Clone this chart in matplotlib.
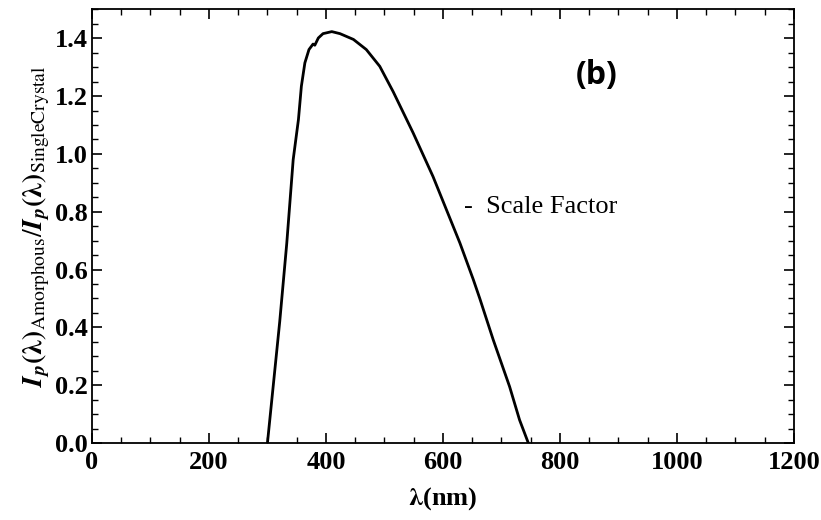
import numpy as np
import matplotlib.pyplot as plt
from matplotlib.ticker import MultipleLocator

# Ratio of photon intensity, amorphous vs single crystal
wavelength = [300, 310, 321, 333, 344, 353, 358, 364, 371, 378, 381, 387, 395,
              410, 424, 447, 469, 492, 515, 549, 583, 606, 629, 652, 663, 686,
              714, 731, 746]
ratio = [0.0, 0.20, 0.42, 0.69, 0.98, 1.119, 1.234, 1.315, 1.361, 1.380, 1.376,
         1.401, 1.416, 1.423, 1.416, 1.396, 1.361, 1.303, 1.215, 1.073, 0.922,
         0.807, 0.692, 0.565, 0.500, 0.357, 0.195, 0.080, 0.0]

plt.rcParams['font.family'] = 'Liberation Serif'
plt.rcParams['mathtext.fontset'] = 'stix'

fig = plt.figure(figsize=(8.21, 5.2), dpi=100)
ax = fig.add_axes([0.112, 0.148, 0.855, 0.834])

ax.plot(wavelength, ratio, color='black', lw=2.0)

ax.set_xlim(0, 1200)
ax.set_ylim(0, 1.5)
ax.xaxis.set_major_locator(MultipleLocator(200))
ax.xaxis.set_minor_locator(MultipleLocator(50))
ax.yaxis.set_minor_locator(MultipleLocator(0.05))
ax.set_yticks(np.arange(0, 1.41, 0.2))
ax.yaxis.set_major_formatter(plt.FuncFormatter(lambda v, p: f'{v:.1f}'))

ax.tick_params(which='both', direction='in', top=True, right=True)
ax.tick_params(which='major', length=7, width=1.2, labelsize=19, pad=3)
ax.tick_params(axis='x', which='major', pad=6)
ax.tick_params(which='minor', length=4, width=1.0)
for lbl in ax.get_xticklabels() + ax.get_yticklabels():
    lbl.set_fontweight('bold')
for sp in ax.spines.values():
    sp.set_linewidth(1.3)

ax.set_xlabel(r'$\mathbf{\lambda}$(nm)', fontsize=19, fontweight='bold', labelpad=8)
ax.set_ylabel(r'$\mathbfit{I_p}\mathbf{(\lambda)}_{\rm Amorphous}/\mathbfit{I_p}\mathbf{(\lambda)}_{\rm SingleCrystal}$',
              fontsize=20, labelpad=2)

ax.text(863, 1.27, '(b)', fontsize=23, fontweight='bold', family='Open Sans',
        ha='center', va='center')
ax.text(636, 0.817, '-  Scale Factor', fontsize=19, ha='left', va='center')

fig.savefig('out.png', dpi=100)
